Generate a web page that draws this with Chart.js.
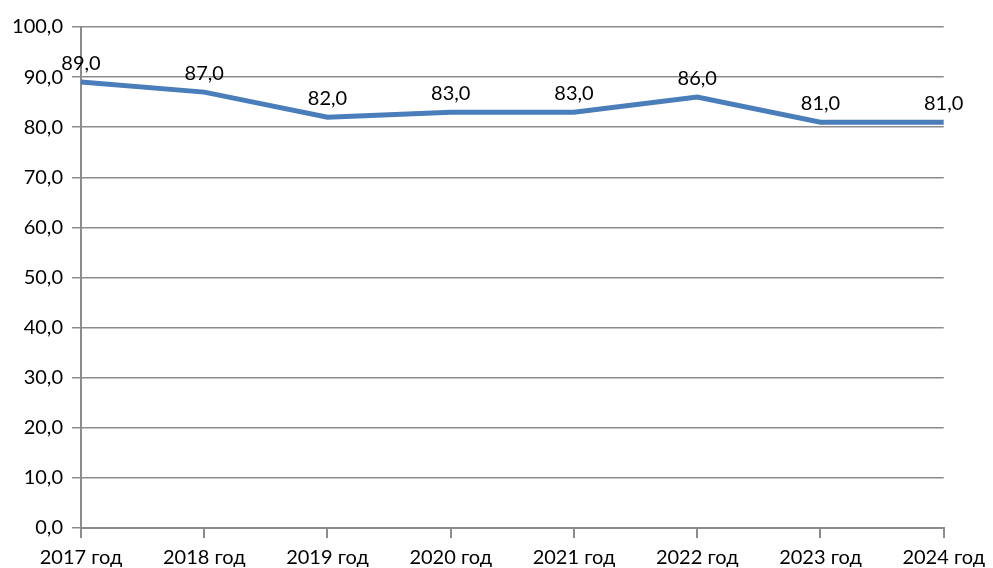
<!DOCTYPE html>
<html lang="ru">
<head>
    <meta charset="UTF-8">
    <title>Показатель по годам</title>
    <script src="https://cdn.jsdelivr.net/npm/chart.js"></script>
    <style>
        html, body { margin: 0; padding: 0; background: #fff; overflow: hidden; }
        #wrap { width: 993px; height: 580px; }
    </style>
</head>
<body>
    <div id="wrap">
        <canvas id="lineChart" width="993" height="580"></canvas>
    </div>

    <script>
        // Данные графика
        var years = ['2017 год', '2018 год', '2019 год', '2020 год', '2021 год', '2022 год', '2023 год', '2024 год'];
        var values = [89.0, 87.0, 82.0, 83.0, 83.0, 86.0, 81.0, 81.0];

        function fmt(v) {
            return Number(v).toFixed(1).replace('.', ',');
        }

        // Подписи значений над точками
        var valueLabels = {
            id: 'valueLabels',
            afterDatasetsDraw: function (chart) {
                var ctx = chart.ctx;
                var meta = chart.getDatasetMeta(0);
                ctx.save();
                ctx.font = '20px Lato';
                ctx.fillStyle = '#000';
                ctx.textAlign = 'center';
                ctx.textBaseline = 'middle';
                meta.data.forEach(function (pt, i) {
                    ctx.fillText(fmt(chart.data.datasets[0].data[i]), pt.x, pt.y - 19);
                });
                ctx.restore();
            }
        };

        var lineChart = new Chart(document.getElementById('lineChart'), {
            type: 'line',
            data: {
                labels: years,
                datasets: [{
                    data: values,
                    borderColor: '#4A7EBB',
                    borderWidth: 5,
                    pointRadius: 0,
                    pointHoverRadius: 0,
                    tension: 0,
                    fill: false
                }]
            },
            plugins: [valueLabels],
            options: {
                responsive: false,
                animation: false,
                layout: { padding: { top: 27, right: 48, left: 0, bottom: 0 } },
                plugins: {
                    legend: { display: false },
                    tooltip: { enabled: false }
                },
                scales: {
                    x: {
                        offset: false,
                        grid: {
                            drawOnChartArea: false,
                            drawTicks: true,
                            tickLength: 10,
                            color: '#8c8c8c',
                            lineWidth: 2
                        },
                        border: { color: '#8c8c8c', width: 2 },
                        ticks: {
                            color: '#000',
                            font: { family: 'Lato', size: 20 },
                            padding: 8,
                            maxRotation: 0,
                            autoSkip: false
                        },
                        afterFit: function (scale) { scale.height = 52; }
                    },
                    y: {
                        min: 0,
                        max: 100,
                        ticks: {
                            stepSize: 10,
                            color: '#000',
                            font: { family: 'Lato', size: 20 },
                            padding: 9,
                            callback: function (v) { return fmt(v); }
                        },
                        grid: {
                            color: '#8c8c8c',
                            lineWidth: 1.5,
                            tickLength: 9
                        },
                        border: { color: '#8c8c8c', width: 2 },
                        afterFit: function (scale) { scale.width = 81; }
                    }
                }
            }
        });
    </script>
</body>
</html>
